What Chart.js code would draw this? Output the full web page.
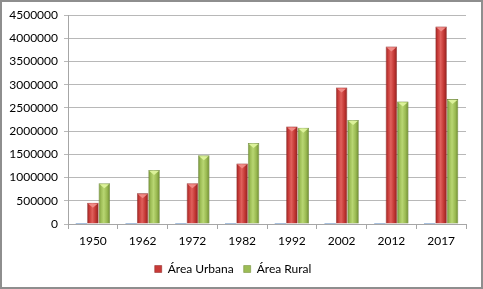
<!DOCTYPE html>
<html>
<head>
<meta charset="utf-8">
<script src="https://cdn.jsdelivr.net/npm/chart.js@4/dist/chart.umd.min.js"></script>
<style>
html,body{margin:0;padding:0;background:#fff;}
#wrap{position:absolute;left:0;top:0;width:483px;height:289px;}
#frame{position:absolute;left:0;top:0;width:479px;height:285px;border:2px solid #8e8e8e;pointer-events:none;}
</style>
</head>
<body>
<div id="wrap">
<canvas id="chartArea" width="483" height="289"></canvas>
<div id="frame"></div>
</div>
<script>

/* data */

let years=["1950","1962","1972","1982","1992","2002","2012","2017"];
let anoValues=[1950,1962,1972,1982,1992,2002,2012,2017];
let urbana=[460000,660000,880000,1300000,2100000,2940000,3820000,4250000];
let rural=[880000,1165000,1480000,1745000,2075000,2240000,2640000,2690000];

let FONT="Lato";

/* couleurs des barres */

let shades={
1:["#8e2422","#c83a37","#e0605c","#c13532","#8a2220"],
2:["#6d8a32","#9cbc55","#b8d672","#98b850","#6a8630"]
};
let caps={1:"#f08a86",2:"#dcf29a"};

let gradientPlugin={
id:"gradientBars",
beforeDatasetsDraw(chart){
let ctx=chart.ctx;
[1,2].forEach(ds=>{
let meta=chart.getDatasetMeta(ds);
meta.data.forEach(bar=>{
let w=bar.width;
let l=bar.x-w/2;
let g=ctx.createLinearGradient(l,0,l+w,0);
let s=shades[ds];
g.addColorStop(0,s[0]);
g.addColorStop(0.2,s[1]);
g.addColorStop(0.45,s[2]);
g.addColorStop(0.75,s[3]);
g.addColorStop(1,s[4]);
bar.options=Object.assign({},bar.options,{backgroundColor:g});
});
});
},
afterDatasetsDraw(chart){
let ctx=chart.ctx;
[1,2].forEach(ds=>{
let meta=chart.getDatasetMeta(ds);
meta.data.forEach(bar=>{
let w=bar.width;
let l=bar.x-w/2;
ctx.save();
ctx.fillStyle=caps[ds];
ctx.beginPath();
ctx.moveTo(l+1,bar.y+1);
ctx.lineTo(l+w-1,bar.y+1);
ctx.lineTo(bar.x,bar.y+5);
ctx.closePath();
ctx.fill();
ctx.restore();
});
});
}
};

new Chart(document.getElementById("chartArea"),{
type:"bar",
data:{
labels:years,
datasets:[
{
label:"Ano",
data:anoValues,
backgroundColor:"#4f81bd",
minBarLength:1,
borderWidth:0
},
{
label:"Área Urbana",
data:urbana,
backgroundColor:"#c0504d",
borderColor:"#8a2220",
borderWidth:0.6,
borderSkipped:false
},
{
label:"Área Rural",
data:rural,
backgroundColor:"#9bbb59",
borderColor:"#5f7a2a",
borderWidth:0.6,
borderSkipped:false
}
]
},
options:{
responsive:false,
animation:false,
layout:{padding:{left:0,right:17,top:15,bottom:4}},
datasets:{bar:{categoryPercentage:0.69,barPercentage:1}},
plugins:{
tooltip:{enabled:false},
legend:{
position:"bottom",
labels:{
font:{family:FONT,size:12},
color:"#000",
boxWidth:7,
boxHeight:7,
padding:10,
filter:item=>item.datasetIndex>0,
generateLabels:(chart)=>{
let base=Chart.defaults.plugins.legend.labels.generateLabels(chart);
base.forEach(it=>{
it.fillStyle=it.datasetIndex===1?"#c83a37":"#9cbc55";
it.strokeStyle=it.datasetIndex===1?"#8a2220":"#6a8630";
it.lineWidth=0.5;
});
return base;
}
}
}
},
scales:{
x:{
grid:{display:true,drawOnChartArea:false,offset:true,tickLength:5,color:"#a6a6a6"},
border:{color:"#a6a6a6"},
ticks:{font:{family:FONT,size:12},color:"#000",padding:5},
afterFit:(s)=>{s.height=29;}
},
y:{
min:0,
max:4500000,
ticks:{stepSize:500000,font:{family:FONT,size:12},color:"#000",padding:6,callback:(v)=>String(v)},
grid:{color:"#b8b8b8",tickLength:4},
border:{color:"#a6a6a6"},
afterFit:(s)=>{s.width=68;}
}
}
},
plugins:[gradientPlugin]
});

</script>
</body>
</html>
